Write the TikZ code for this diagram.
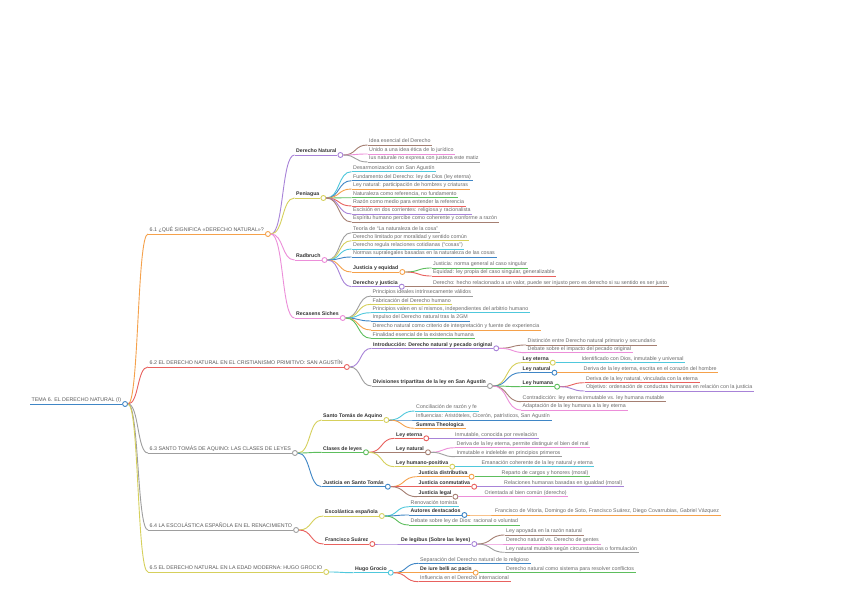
\documentclass[tikz,border=0pt]{standalone}
\usepackage{fontspec}
\setmainfont{Liberation Sans}
\usetikzlibrary{calc}
\definecolor{cblue}{HTML}{3F86C6}
\definecolor{corange}{HTML}{F5A14B}
\definecolor{cred}{HTML}{E8615E}
\definecolor{cgray}{HTML}{9E9E9E}
\definecolor{cyellow}{HTML}{D6D05C}
\definecolor{cpurple}{HTML}{A883D8}
\definecolor{cpink}{HTML}{EC8ED9}
\definecolor{ccyan}{HTML}{4FC8DC}
\definecolor{cgreen}{HTML}{5DBE5D}
\definecolor{cbrown}{HTML}{A57F72}
\definecolor{tleaf}{HTML}{6A6A6A}
\definecolor{tbold}{HTML}{333333}
\definecolor{tupper}{HTML}{5A5A5A}
\tikzset{
 txt/.style={anchor=south west, inner xsep=1.5pt, inner ysep=0.8pt, text height=4pt, text depth=1.2pt, font=\fontsize{5.3}{6}\selectfont, text=tleaf},
 btxt/.style={txt, font=\fontsize{5.2}{6}\selectfont\bfseries, text=tbold},
 utxt/.style={txt, text=tupper},
 dot/.style={circle, draw=#1, fill=white, line width=0.9pt, minimum size=5pt, inner sep=0pt},
 ln/.style={draw=#1, line width=0.9pt},
}
\newcommand\mmconn[3]{%
  \draw[ln=#1] let \p1=(#2.east), \p2=(#3.south west) in (\p1) .. controls +({0.55*(\x2-\x1)},0) and +({-0.55*(\x2-\x1)},0) .. (\p2);
}
\newcommand\mmleaf[6]{%
  \node[txt] (#1) at (#4,#5) {#6};
  \mmconn{#3}{#2}{#1}
  \draw[ln=#3] (#1.south west) -- (#1.south east);
}
\newcommand\mmbleaf[6]{%
  \node[btxt] (#1) at (#4,#5) {#6};
  \mmconn{#3}{#2}{#1}
  \draw[ln=#3] (#1.south west) -- (#1.south east);
}
\newcommand\mmbranch[7]{%
  \node[#7] (#1) at (#4,#5) {#6};
  \node[dot=#3, anchor=west, xshift=-0.6pt] (#1d) at (#1.south east) {};
  \mmconn{#3}{#2}{#1}
  \draw[ln=#3] (#1.south west) -- (#1d.west);
}
\begin{document}
\begin{tikzpicture}[x=1pt,y=-1pt]
\useasboundingbox[fill=white] (0,0) rectangle (848,599);
% root
\node[utxt] (R) at (30,404) {TEMA 6. EL DERECHO NATURAL (I)};
\node[dot=cblue, anchor=west, xshift=-0.6pt] (Rd) at (R.south east) {};
\draw[ln=cblue] (R.south west) -- (Rd.west);
% level 1
\mmbranch{A}{Rd}{corange}{148}{234}{6.1 ¿QUÉ SIGNIFICA «DERECHO NATURAL»?}{utxt}
\mmbranch{B}{Rd}{cred}{148}{367}{6.2 EL DERECHO NATURAL EN EL CRISTIANISMO PRIMITIVO: SAN AGUSTÍN}{utxt}
\mmbranch{C}{Rd}{cgray}{148}{453}{6.3 SANTO TOMÁS DE AQUINO: LAS CLASES DE LEYES}{utxt}
\mmbranch{D}{Rd}{cgray}{148}{530}{6.4 LA ESCOLÁSTICA ESPAÑOLA EN EL RENACIMIENTO}{utxt}
\mmbranch{E}{Rd}{cyellow}{148}{572}{6.5 EL DERECHO NATURAL EN LA EDAD MODERNA: HUGO GROCIO}{utxt}
% 6.1
\mmbranch{A1}{Ad}{cpurple}{294.5}{155}{Derecho Natural}{btxt}
\mmbranch{A2}{Ad}{cyellow}{294.5}{198}{Peniagua}{btxt}
\mmbranch{A3}{Ad}{cpink}{294.5}{260}{Radbruch}{btxt}
\mmbranch{A4}{Ad}{cpink}{294.5}{318}{Recasens Siches}{btxt}
\mmleaf{A1a}{A1d}{cbrown}{367.5}{145}{Idea esencial del Derecho}
\mmleaf{A1b}{A1d}{cpink}{367.5}{154}{Unido a una idea ética de lo jurídico}
\mmleaf{A1c}{A1d}{cgray}{367.5}{162}{Ius naturale no expresa con justeza este matiz}
\mmleaf{A2a}{A2d}{ccyan}{351.5}{171.7}{Desarmonización con San Agustín}
\mmleaf{A2b}{A2d}{cblue}{351.5}{180.7}{Fundamento del Derecho: ley de Dios (ley eterna)}
\mmleaf{A2c}{A2d}{corange}{351.5}{189}{Ley natural: participación de hombres y criaturas}
\mmleaf{A2e}{A2d}{cgreen}{351.5}{197.7}{Naturaleza como referencia, no fundamento}
\mmleaf{A2f}{A2d}{cred}{351.5}{206}{Razón como medio para entender la referencia}
\mmleaf{A2g}{A2d}{cpurple}{351.5}{214}{Escisión en dos corrientes: religiosa y racionalista}
\mmleaf{A2h}{A2d}{cbrown}{351.5}{222}{Espíritu humano percibe como coherente y conforme a razón}
\mmleaf{A3a}{A3d}{cgray}{351.5}{232.7}{Teoría de “La naturaleza de la cosa”}
\mmleaf{A3b}{A3d}{cyellow}{351.5}{240.7}{Derecho limitado por moralidad y sentido común}
\mmleaf{A3c}{A3d}{ccyan}{351.5}{249}{Derecho regula relaciones cotidianas (“cosas”)}
\mmleaf{A3e}{A3d}{cblue}{351.5}{257}{Normas supralegales basadas en la naturaleza de las cosas}
\mmbranch{A3f}{A3d}{corange}{351.5}{272}{Justicia y equidad}{btxt}
\mmbranch{A3g}{A3d}{cpurple}{351.5}{286.7}{Derecho y justicia}{btxt}
\mmleaf{A3f1}{A3fd}{cgreen}{431.5}{268}{Justicia: norma general al caso singular}
\mmleaf{A3f2}{A3fd}{cred}{431.5}{276}{Equidad: ley propia del caso singular, generalizable}
\mmleaf{A3g1}{A3gd}{cbrown}{431.5}{286.7}{Derecho: hecho relacionado a un valor, puede ser injusto pero es derecho si su sentido es ser justo}
\mmleaf{A4a}{A4d}{cgray}{371}{296}{Principios ideales intrínsecamente válidos}
\mmleaf{A4b}{A4d}{cyellow}{371}{304.3}{Fabricación del Derecho humano}
\mmleaf{A4c}{A4d}{ccyan}{371}{312.7}{Principios valen en sí mismos, independientes del arbitrio humano}
\mmleaf{A4e}{A4d}{cblue}{371}{321}{Impulso del Derecho natural tras la 2GM}
\mmleaf{A4f}{A4d}{corange}{371}{330}{Derecho natural como criterio de interpretación y fuente de experiencia}
\mmleaf{A4g}{A4d}{cgreen}{371}{338.3}{Finalidad esencial de la existencia humana}
% 6.2
\mmbranch{B1}{Bd}{cpurple}{371.5}{348.3}{Introducción: Derecho natural y pecado original}{btxt}
\mmbranch{B2}{Bd}{cgray}{371.5}{386}{Divisiones tripartitas de la ley en San Agustín}{btxt}
\mmleaf{B1a}{B1d}{cbrown}{526}{345}{Distinción entre Derecho natural primario y secundario}
\mmleaf{B1b}{B1d}{cpink}{526}{352.7}{Debate sobre el impacto del pecado original}
\mmbranch{B21}{B2d}{cyellow}{521}{362.7}{Ley eterna}{btxt}
\mmbranch{B22}{B2d}{cblue}{521}{372.7}{Ley natural}{btxt}
\mmbranch{B23}{B2d}{cgreen}{521}{386.7}{Ley humana}{btxt}
\mmleaf{B24}{B2d}{cbrown}{521}{401.7}{Contradicción: ley eterna inmutable vs. ley humana mutable}
\mmleaf{B25}{B2d}{cpink}{521}{410}{Adaptación de la ley humana a la ley eterna}
\mmleaf{B21a}{B21d}{ccyan}{580}{362.7}{Identificado con Dios, inmutable y universal}
\mmleaf{B22a}{B22d}{corange}{582}{372.7}{Deriva de la ley eterna, escrita en el corazón del hombre}
\mmleaf{B23a}{B23d}{cred}{584.5}{382.7}{Deriva de la ley natural, vinculada con la eterna}
\mmleaf{B23b}{B23d}{cpurple}{584.5}{391}{Objetivo: ordenación de conductas humanas en relación con la justicia}
% 6.3
\mmbranch{C1}{Cd}{cyellow}{321.5}{420}{Santo Tomás de Aquino}{btxt}
\mmbranch{C2}{Cd}{cgreen}{321.5}{452.3}{Clases de leyes}{btxt}
\mmbranch{C3}{Cd}{cblue}{321.5}{486.7}{Justicia en Santo Tomás}{btxt}
\mmleaf{C1a}{C1d}{ccyan}{414.5}{411}{Conciliación de razón y fe}
\mmleaf{C1b}{C1d}{cblue}{414.5}{420}{Influencias: Aristóteles, Cicerón, patrísticos, San Agustín}
\mmbleaf{C1c}{C1d}{corange}{414.5}{428.3}{Summa Theologica}
\mmbranch{C2a}{C2d}{cred}{394.5}{438.3}{Ley eterna}{btxt}
\mmbranch{C2b}{C2d}{cbrown}{394.5}{452.3}{Ley natural}{btxt}
\mmbranch{C2c}{C2d}{cyellow}{394.5}{466.7}{Ley humano-positiva}{btxt}
\mmleaf{C2a1}{C2ad}{cpurple}{453.5}{438.3}{Inmutable, conocida por revelación}
\mmleaf{C2b1}{C2bd}{cpink}{455}{447.7}{Deriva de la ley eterna, permite distinguir el bien del mal}
\mmleaf{C2b2}{C2bd}{cgray}{455}{456.7}{Inmutable e indeleble en principios primeros}
\mmleaf{C2c1}{C2cd}{ccyan}{480}{466.7}{Emanación coherente de la ley natural y eterna}
\mmbranch{C3a}{C3d}{corange}{417}{476.7}{Justicia distributiva}{btxt}
\mmbranch{C3b}{C3d}{cred}{417}{486.7}{Justicia conmutativa}{btxt}
\mmbranch{C3c}{C3d}{cbrown}{417}{496.7}{Justicia legal}{btxt}
\mmleaf{C3a1}{C3ad}{cgreen}{500}{476.7}{Reparto de cargos y honores (moral)}
\mmleaf{C3b1}{C3bd}{cpurple}{502.5}{486.7}{Relaciones humanas basadas en igualdad (moral)}
\mmleaf{C3c1}{C3cd}{cpink}{483}{496.7}{Orientada al bien común (derecho)}
% 6.4
\mmbranch{D1}{Dd}{cyellow}{323.5}{516}{Escolástica española}{btxt}
\mmbranch{D2}{Dd}{cred}{323.5}{544}{Francisco Suárez}{btxt}
\mmleaf{D1a}{D1d}{ccyan}{409}{506.7}{Renovación tomista}
\mmbranch{D1b}{D1d}{cblue}{409}{515}{Autores destacados}{btxt}
\mmleaf{D1c}{D1d}{cgreen}{409}{525}{Debate sobre ley de Dios: racional o voluntad}
\mmleaf{D1b1}{D1bd}{corange}{493.5}{515}{Francisco de Vitoria, Domingo de Soto, Francisco Suárez, Diego Covarrubias, Gabriel Vázquez}
\mmbranch{D2a}{D2d}{cpurple}{399.5}{544}{De legibus (Sobre las leyes)}{btxt}
\mmleaf{D2a1}{D2ad}{cbrown}{504.5}{535}{Ley apoyada en la razón natural}
\mmleaf{D2a2}{D2ad}{cpink}{504.5}{544}{Derecho natural vs. Derecho de gentes}
\mmleaf{D2a3}{D2ad}{cgray}{504.5}{552.3}{Ley natural mutable según circunstancias o formulación}
% 6.5
\mmbranch{E1}{Ed}{ccyan}{353.5}{572.7}{Hugo Grocio}{btxt}
\mmleaf{E1a}{E1d}{cblue}{418.5}{563.3}{Separación del Derecho natural de lo religioso}
\mmbranch{E1b}{E1d}{corange}{418.5}{572.7}{De iure belli ac pacis}{btxt}
\mmleaf{E1c}{E1d}{cred}{418.5}{581.7}{Influencia en el Derecho internacional}
\mmleaf{E1b1}{E1bd}{cgreen}{504.5}{572.7}{Derecho natural como sistema para resolver conflictos}
\end{tikzpicture}
\end{document}
